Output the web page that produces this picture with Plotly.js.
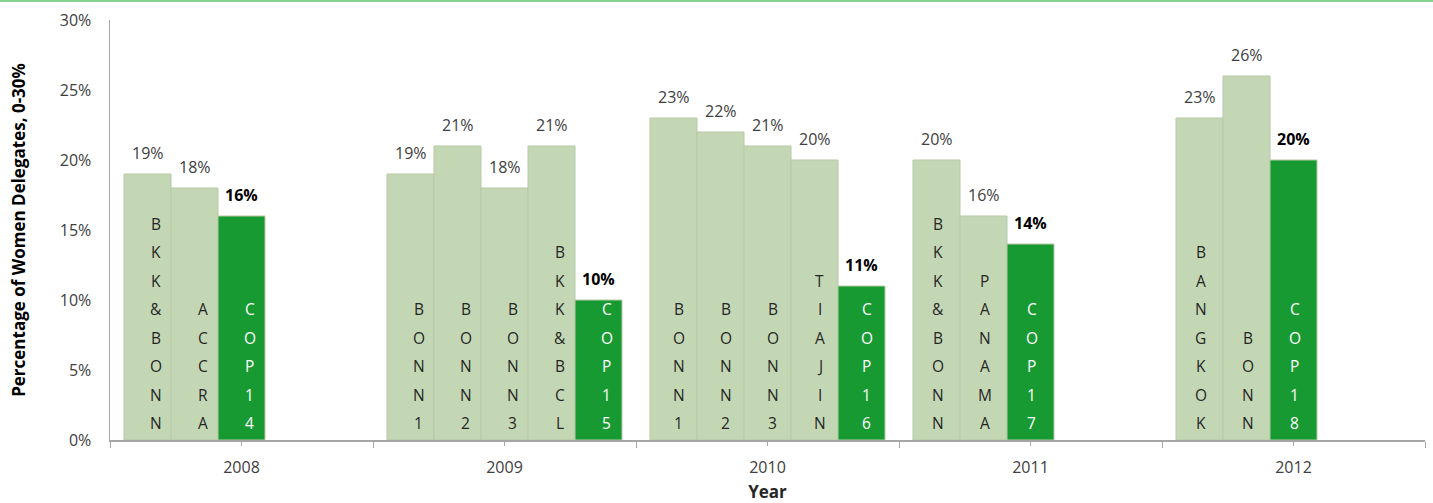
<!DOCTYPE html>
<html>
<head>
<meta charset="utf-8">
<script src="https://cdn.plot.ly/plotly-3.0.1.min.js"></script>
<style>
  html, body { margin: 0; padding: 0; background: #fff; }
  #wrap { position: relative; width: 1433px; height: 503px; }
  #chart { width: 1433px; height: 503px; }
  #topline { position: absolute; left: 0; top: 0; width: 1433px; height: 2px; background: #86cf92; }
</style>
</head>
<body>
<div id="wrap">
  <div id="chart"></div>
  <div id="topline"></div>
</div>
<script>
// ---- data ----
const years = ['2008', '2009', '2010', '2011', '2012'];
const meetingYear = ['2008', '2008', '2008',
                     '2009', '2009', '2009', '2009', '2009',
                     '2010', '2010', '2010', '2010', '2010',
                     '2011', '2011', '2011',
                     '2012', '2012', '2012'];
const meetingName = ['BKK&BONN', 'ACCRA', 'COP14',
                     'BONN1', 'BONN2', 'BONN3', 'BKK&BCL', 'COP15',
                     'BONN1', 'BONN2', 'BONN3', 'TIAJIN', 'COP16',
                     'BKK&BONN', 'PANAMA', 'COP17',
                     'BANGKOK', 'BONN', 'COP18'];
const womenPct = [19, 18, 16,
                  19, 21, 18, 21, 10,
                  23, 22, 21, 20, 11,
                  20, 16, 14,
                  23, 26, 20];

// ---- styling constants ----
const FONT = '"Open Sans", "Noto Sans", sans-serif';
const LIGHT = '#c4d7b4';
const DARK = '#189a33';
const SLOT = 47 / 263;          // width of one bar slot in category units
const LETTER_STEP = 28.5;       // px between stacked letters
const LETTER_BASE = 17;         // px from axis to center of bottom letter
const groupShift = {'2008': 8, '2009': 8, '2010': 5, '2011': 1, '2012': 1};

const xs = [], colors = [], lines = [];
const slotCount = {};
const annotations = [];
meetingName.forEach((name, i) => {
  const yr = meetingYear[i];
  const g = years.indexOf(yr);
  const slot = slotCount[yr] || 0;
  slotCount[yr] = slot + 1;
  const x = g + (slot - 2) * SLOT;
  xs.push(x);
  const cop = name.startsWith('COP');
  colors.push(cop ? DARK : LIGHT);
  lines.push('#b7c9a6');
  // value label
  annotations.push({
    x: x, y: womenPct[i], xref: 'x', yref: 'y',
    text: cop ? '<b>' + womenPct[i] + '%</b>' : womenPct[i] + '%',
    showarrow: false, yanchor: 'bottom', yshift: 8,
    font: {family: FONT, size: 16, color: cop ? '#000000' : '#404040'}
  });
  // stacked letters
  const letters = name.split('');
  const n = letters.length;
  letters.forEach((ch, k) => {
    annotations.push({
      x: x, y: 0, xref: 'x', yref: 'y',
      text: ch, showarrow: false, yanchor: 'middle', xanchor: 'center',
      xshift: groupShift[yr],
      yshift: LETTER_BASE + (n - 1 - k) * LETTER_STEP,
      font: {family: FONT, size: 15.5, color: cop ? '#ffffff' : '#262626'}
    });
  });
});

const trace = {
  type: 'bar',
  x: xs,
  y: womenPct,
  width: SLOT,
  marker: {color: colors, line: {color: lines, width: 1}},
  hoverinfo: 'skip'
};

const layout = {
  width: 1433, height: 503,
  margin: {l: 110, r: 8, t: 20, b: 63},
  paper_bgcolor: '#ffffff', plot_bgcolor: '#ffffff',
  showlegend: false,
  font: {family: FONT, size: 16, color: '#404040'},
  xaxis: {
    range: [-0.5, 4.5],
    tickmode: 'array',
    tickvals: years.map((y, i) => i),
    ticktext: years,
    ticks: 'outside', ticklen: 4, tickcolor: '#a6a6a6', tickwidth: 1,
    minor: {tick0: -0.5, dtick: 1, ticks: 'outside', ticklen: 6, tickcolor: '#a6a6a6', tickwidth: 1},
    showline: true, linecolor: '#a6a6a6', linewidth: 1.5,
    showgrid: false, zeroline: false,
    ticklabelstandoff: 8,
    tickfont: {family: FONT, size: 16, color: '#404040'},
    title: {text: '<b>Year</b>', font: {family: FONT, size: 17, color: '#262626'}, standoff: 12},
    fixedrange: true
  },
  yaxis: {
    range: [0, 30],
    tickmode: 'linear', tick0: 0, dtick: 5,
    ticksuffix: '%',
    ticks: '',
    showline: true, linecolor: '#a6a6a6', linewidth: 1.5,
    showgrid: false, zeroline: false,
    ticklabelstandoff: 14,
    tickfont: {family: FONT, size: 16, color: '#404040'},
    title: {text: '<b>Percentage of Women Delegates, 0-30%</b>', font: {family: FONT, size: 17, color: '#000000'}, standoff: 30},
    fixedrange: true
  },
  annotations: annotations
};

Plotly.newPlot('chart', [trace], layout, {displayModeBar: false, staticPlot: true});
</script>
</body>
</html>
